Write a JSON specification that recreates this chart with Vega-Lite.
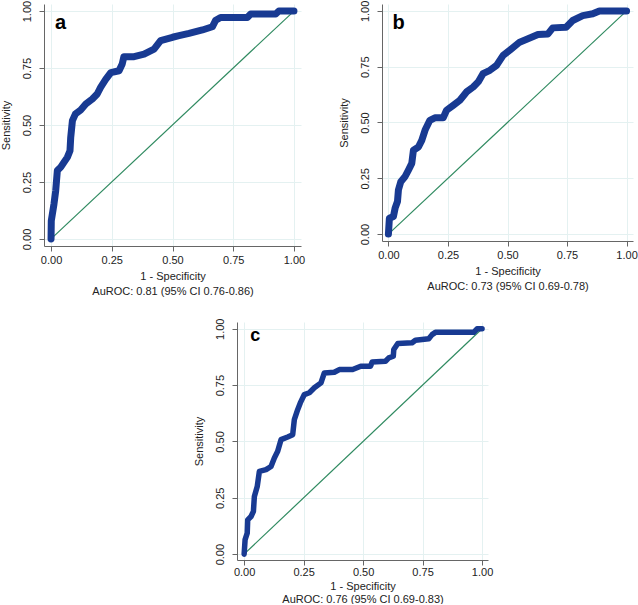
{
  "$schema": "https://vega.github.io/schema/vega-lite/v6.json",
  "background": "white",
  "padding": {"left": 0, "top": 0, "right": 0, "bottom": 0},
  "datasets": {
    "diag": [{"fpr": 0, "tpr": 0}, {"fpr": 1, "tpr": 1}],
    "rocA": [
      {"fpr": 0, "tpr": 0}, {"fpr": 0.001, "tpr": 0.08}, {"fpr": 0.012, "tpr": 0.153}, {"fpr": 0.019, "tpr": 0.21},
      {"fpr": 0.026, "tpr": 0.3}, {"fpr": 0.04, "tpr": 0.315}, {"fpr": 0.053, "tpr": 0.336}, {"fpr": 0.067, "tpr": 0.358},
      {"fpr": 0.078, "tpr": 0.387}, {"fpr": 0.081, "tpr": 0.446}, {"fpr": 0.088, "tpr": 0.519}, {"fpr": 0.1, "tpr": 0.548},
      {"fpr": 0.122, "tpr": 0.566}, {"fpr": 0.143, "tpr": 0.592}, {"fpr": 0.17, "tpr": 0.614}, {"fpr": 0.19, "tpr": 0.636},
      {"fpr": 0.204, "tpr": 0.665}, {"fpr": 0.225, "tpr": 0.7}, {"fpr": 0.246, "tpr": 0.73}, {"fpr": 0.28, "tpr": 0.738},
      {"fpr": 0.293, "tpr": 0.768}, {"fpr": 0.3, "tpr": 0.8}, {"fpr": 0.342, "tpr": 0.8}, {"fpr": 0.383, "tpr": 0.811},
      {"fpr": 0.424, "tpr": 0.833}, {"fpr": 0.451, "tpr": 0.87}, {"fpr": 0.5, "tpr": 0.885}, {"fpr": 0.527, "tpr": 0.892},
      {"fpr": 0.568, "tpr": 0.902}, {"fpr": 0.623, "tpr": 0.917}, {"fpr": 0.664, "tpr": 0.931}, {"fpr": 0.678, "tpr": 0.96},
      {"fpr": 0.698, "tpr": 0.972}, {"fpr": 0.808, "tpr": 0.972}, {"fpr": 0.822, "tpr": 0.987}, {"fpr": 0.925, "tpr": 0.987},
      {"fpr": 0.938, "tpr": 1.0}, {"fpr": 1.0, "tpr": 1.0}
    ],
    "rocB": [
      {"fpr": 0, "tpr": 0}, {"fpr": 0.004, "tpr": 0.071}, {"fpr": 0.021, "tpr": 0.079}, {"fpr": 0.028, "tpr": 0.116},
      {"fpr": 0.038, "tpr": 0.146}, {"fpr": 0.042, "tpr": 0.198}, {"fpr": 0.052, "tpr": 0.235}, {"fpr": 0.07, "tpr": 0.258},
      {"fpr": 0.084, "tpr": 0.287}, {"fpr": 0.098, "tpr": 0.317}, {"fpr": 0.105, "tpr": 0.376}, {"fpr": 0.126, "tpr": 0.39},
      {"fpr": 0.14, "tpr": 0.42}, {"fpr": 0.154, "tpr": 0.466}, {"fpr": 0.174, "tpr": 0.51}, {"fpr": 0.195, "tpr": 0.521},
      {"fpr": 0.23, "tpr": 0.521}, {"fpr": 0.244, "tpr": 0.555}, {"fpr": 0.272, "tpr": 0.577}, {"fpr": 0.3, "tpr": 0.6},
      {"fpr": 0.328, "tpr": 0.637}, {"fpr": 0.356, "tpr": 0.659}, {"fpr": 0.377, "tpr": 0.682}, {"fpr": 0.397, "tpr": 0.719},
      {"fpr": 0.426, "tpr": 0.734}, {"fpr": 0.454, "tpr": 0.756}, {"fpr": 0.481, "tpr": 0.8}, {"fpr": 0.512, "tpr": 0.826},
      {"fpr": 0.551, "tpr": 0.86}, {"fpr": 0.586, "tpr": 0.875}, {"fpr": 0.628, "tpr": 0.894}, {"fpr": 0.67, "tpr": 0.897},
      {"fpr": 0.69, "tpr": 0.924}, {"fpr": 0.746, "tpr": 0.927}, {"fpr": 0.774, "tpr": 0.957}, {"fpr": 0.816, "tpr": 0.979},
      {"fpr": 0.858, "tpr": 0.987}, {"fpr": 0.886, "tpr": 1.0}, {"fpr": 1.0, "tpr": 1.0}
    ],
    "rocC": [
      {"fpr": 0, "tpr": 0}, {"fpr": 0.004, "tpr": 0.064}, {"fpr": 0.013, "tpr": 0.093}, {"fpr": 0.015, "tpr": 0.152},
      {"fpr": 0.029, "tpr": 0.167}, {"fpr": 0.039, "tpr": 0.19}, {"fpr": 0.043, "tpr": 0.256}, {"fpr": 0.055, "tpr": 0.3},
      {"fpr": 0.064, "tpr": 0.367}, {"fpr": 0.092, "tpr": 0.375}, {"fpr": 0.113, "tpr": 0.389}, {"fpr": 0.127, "tpr": 0.427},
      {"fpr": 0.141, "tpr": 0.456}, {"fpr": 0.155, "tpr": 0.508}, {"fpr": 0.183, "tpr": 0.52}, {"fpr": 0.204, "tpr": 0.53},
      {"fpr": 0.211, "tpr": 0.597}, {"fpr": 0.225, "tpr": 0.641}, {"fpr": 0.236, "tpr": 0.671}, {"fpr": 0.253, "tpr": 0.708},
      {"fpr": 0.274, "tpr": 0.716}, {"fpr": 0.295, "tpr": 0.738}, {"fpr": 0.323, "tpr": 0.76}, {"fpr": 0.337, "tpr": 0.804},
      {"fpr": 0.379, "tpr": 0.807}, {"fpr": 0.4, "tpr": 0.819}, {"fpr": 0.456, "tpr": 0.819}, {"fpr": 0.49, "tpr": 0.834},
      {"fpr": 0.531, "tpr": 0.834}, {"fpr": 0.538, "tpr": 0.852}, {"fpr": 0.594, "tpr": 0.856}, {"fpr": 0.608, "tpr": 0.871},
      {"fpr": 0.627, "tpr": 0.878}, {"fpr": 0.629, "tpr": 0.908}, {"fpr": 0.646, "tpr": 0.935}, {"fpr": 0.706, "tpr": 0.938},
      {"fpr": 0.72, "tpr": 0.949}, {"fpr": 0.776, "tpr": 0.956}, {"fpr": 0.79, "tpr": 0.974}, {"fpr": 0.804, "tpr": 0.984},
      {"fpr": 0.965, "tpr": 0.984}, {"fpr": 0.979, "tpr": 1.0}, {"fpr": 1.0, "tpr": 1.0}
    ]
  },
  "vconcat": [
    {
      "hconcat": [
        {
          "width": 257, "height": 242,
          "layer": [
            {
              "data": {"name": "diag"},
              "mark": {"type": "line", "color": "#2f8a60", "strokeWidth": 1.2},
              "encoding": {
                "x": {"field": "fpr", "type": "quantitative", "scale": {"domain": [-0.029, 1.029], "nice": false, "zero": false},
                      "axis": {"values": [0, 0.25, 0.5, 0.75, 1], "title": ["1 - Specificity", "AuROC: 0.81 (95% CI 0.76-0.86)"]}},
                "y": {"field": "tpr", "type": "quantitative", "scale": {"domain": [-0.031, 1.031], "nice": false, "zero": false},
                      "axis": {"values": [0, 0.25, 0.5, 0.75, 1], "title": "Sensitivity"}}
              }
            },
            {
              "data": {"name": "rocA"},
              "mark": {"type": "line", "color": "#183a92", "strokeWidth": 7, "strokeCap": "round", "strokeJoin": "round"},
              "encoding": {
                "x": {"field": "fpr", "type": "quantitative"},
                "y": {"field": "tpr", "type": "quantitative"},
                "order": [{"field": "fpr"}, {"field": "tpr"}]
              }
            },
            {
              "data": {"values": [{"label": "a"}]},
              "mark": {"type": "text", "fontSize": 20, "fontWeight": "bold", "align": "left", "baseline": "alphabetic", "color": "black"},
              "encoding": {"x": {"datum": 0.016}, "y": {"datum": 0.92}, "text": {"field": "label"}}
            }
          ]
        },
        {
          "width": 251, "height": 237,
          "layer": [
            {
              "data": {"name": "diag"},
              "mark": {"type": "line", "color": "#2f8a60", "strokeWidth": 1.2},
              "encoding": {
                "x": {"field": "fpr", "type": "quantitative", "scale": {"domain": [-0.027, 1.027], "nice": false, "zero": false},
                      "axis": {"values": [0, 0.25, 0.5, 0.75, 1], "title": ["1 - Specificity", "AuROC: 0.73 (95% CI 0.69-0.78)"]}},
                "y": {"field": "tpr", "type": "quantitative", "scale": {"domain": [-0.031, 1.031], "nice": false, "zero": false},
                      "axis": {"values": [0, 0.25, 0.5, 0.75, 1], "title": "Sensitivity"}}
              }
            },
            {
              "data": {"name": "rocB"},
              "mark": {"type": "line", "color": "#183a92", "strokeWidth": 7, "strokeCap": "round", "strokeJoin": "round"},
              "encoding": {
                "x": {"field": "fpr", "type": "quantitative"},
                "y": {"field": "tpr", "type": "quantitative"},
                "order": [{"field": "fpr"}, {"field": "tpr"}]
              }
            },
            {
              "data": {"values": [{"label": "b"}]},
              "mark": {"type": "text", "fontSize": 20, "fontWeight": "bold", "align": "left", "baseline": "alphabetic", "color": "black"},
              "encoding": {"x": {"datum": 0.017}, "y": {"datum": 0.92}, "text": {"field": "label"}}
            }
          ]
        }
      ],
      "spacing": 33
    },
    {
      "hconcat": [
        {
          "width": 149, "height": 10,
          "data": {"values": [{}]},
          "mark": {"type": "point", "opacity": 0},
          "encoding": {}
        },
        {
          "width": 251, "height": 238,
          "layer": [
            {
              "data": {"name": "diag"},
              "mark": {"type": "line", "color": "#2f8a60", "strokeWidth": 1.2},
              "encoding": {
                "x": {"field": "fpr", "type": "quantitative", "scale": {"domain": [-0.03, 1.025], "nice": false, "zero": false},
                      "axis": {"values": [0, 0.25, 0.5, 0.75, 1], "labelPadding": 1, "titlePadding": 3, "titleLineHeight": 13,
                               "title": ["1 - Specificity", "AuROC: 0.76 (95% CI 0.69-0.83)"]}},
                "y": {"field": "tpr", "type": "quantitative", "scale": {"domain": [-0.026, 1.03], "nice": false, "zero": false},
                      "axis": {"values": [0, 0.25, 0.5, 0.75, 1], "title": "Sensitivity"}}
              }
            },
            {
              "data": {"name": "rocC"},
              "mark": {"type": "line", "color": "#183a92", "strokeWidth": 5.5, "strokeCap": "round", "strokeJoin": "round"},
              "encoding": {
                "x": {"field": "fpr", "type": "quantitative"},
                "y": {"field": "tpr", "type": "quantitative"},
                "order": [{"field": "fpr"}, {"field": "tpr"}]
              }
            },
            {
              "data": {"values": [{"label": "c"}]},
              "mark": {"type": "text", "fontSize": 18, "fontWeight": "bold", "align": "left", "baseline": "alphabetic", "color": "black"},
              "encoding": {"x": {"datum": 0.026}, "y": {"datum": 0.945}, "text": {"field": "label"}}
            }
          ]
        }
      ],
      "spacing": 0
    }
  ],
  "spacing": 22,
  "config": {
    "font": "Liberation Sans",
    "view": {"stroke": null},
    "axis": {
      "labelFont": "Liberation Sans", "labelFontSize": 11, "labelColor": "#222",
      "titleFont": "Liberation Sans", "titleFontSize": 11, "titleFontWeight": "normal", "titleColor": "#222",
      "domainColor": "#666", "tickColor": "#666", "gridColor": "#e4f1f1", "tickSize": 5, "format": ".2f"
    },
    "axisX": {"labelPadding": 3, "titlePadding": 5, "titleLineHeight": 15},
    "axisY": {"labelAngle": -90, "labelAlign": "center", "labelBaseline": "bottom", "labelPadding": 7, "titlePadding": 10}
  }
}
